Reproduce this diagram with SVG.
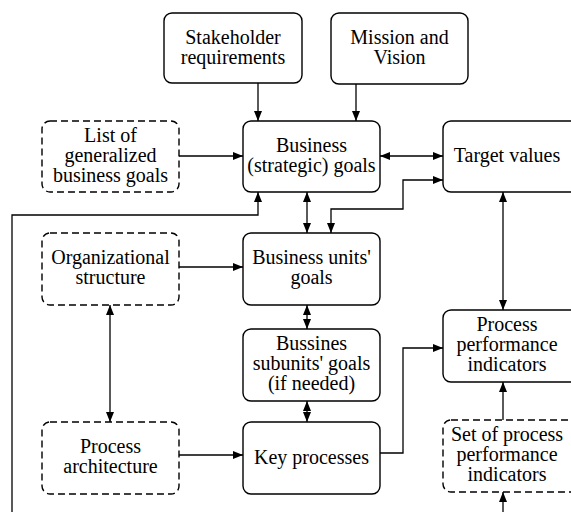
<svg xmlns="http://www.w3.org/2000/svg" width="571" height="512" viewBox="0 0 571 512">
<style>
.box{fill:#fff;stroke:#000;stroke-width:1.4}
.dash{fill:#fff;stroke:#000;stroke-width:1.4;stroke-dasharray:7,4}
.c{fill:none;stroke:#000;stroke-width:1.3}
</style>
<defs>
<marker id="ah" viewBox="0 0 10 8" refX="10" refY="4" markerWidth="10" markerHeight="8" markerUnits="userSpaceOnUse" orient="auto-start-reverse">
<path d="M0,0 L10,4 L0,8 z" fill="#000"/>
</marker>
</defs>
<rect width="571" height="512" fill="#fff"/>
<g id="connectors">
<path class="c" d="M258,83 V121" marker-end="url(#ah)"/>
<path class="c" d="M356,84 V121" marker-end="url(#ah)"/>
<path class="c" d="M179,156 H243" marker-end="url(#ah)"/>
<path class="c" d="M380,156 H443" marker-start="url(#ah)" marker-end="url(#ah)"/>
<path class="c" d="M331,233 V209 H403 V180 H443" marker-start="url(#ah)" marker-end="url(#ah)"/>
<path class="c" d="M307,192 V233" marker-start="url(#ah)" marker-end="url(#ah)"/>
<path class="c" d="M12,520 V215 H258 V192" marker-end="url(#ah)"/>
<path class="c" d="M179,267 H243" marker-end="url(#ah)"/>
<path class="c" d="M110,305 V422" marker-start="url(#ah)" marker-end="url(#ah)"/>
<path class="c" d="M179,455 H243" marker-end="url(#ah)"/>
<path class="c" d="M307,305 V329" marker-start="url(#ah)" marker-end="url(#ah)"/>
<path class="c" d="M307,401 V422" marker-start="url(#ah)" marker-end="url(#ah)"/>
<path class="c" d="M380,453 H403 V348 H443" marker-end="url(#ah)"/>
<path class="c" d="M503,192 V310" marker-start="url(#ah)" marker-end="url(#ah)"/>
<path class="c" d="M503,420 V382" marker-end="url(#ah)"/>
<path class="c" d="M503,520 V492" marker-end="url(#ah)"/>
</g>
<g font-family="Liberation Serif, Times New Roman, serif" font-size="20" text-anchor="middle" fill="#000">
<g id="stakeholder">
<rect class="box" x="164" y="13" width="138" height="70" rx="8"/>
<text x="233" y="44">Stakeholder</text>
<text x="233" y="64">requirements</text>
</g>
<g id="mission">
<rect class="box" x="331" y="13" width="137" height="71" rx="8"/>
<text x="399.5" y="44">Mission and</text>
<text x="399.5" y="64">Vision</text>
</g>
<g id="list">
<rect class="dash" x="42" y="121" width="137" height="71" rx="8"/>
<text x="110.5" y="142">List of</text>
<text x="110.5" y="162">generalized</text>
<text x="110.5" y="182">business goals</text>
</g>
<g id="business">
<rect class="box" x="243" y="121" width="137" height="71" rx="8"/>
<text x="311.5" y="152">Business</text>
<text x="311.5" y="172">(strategic) goals</text>
</g>
<g id="target">
<rect class="box" x="443" y="121" width="137" height="71" rx="8"/>
<text x="507" y="162">Target values</text>
</g>
<g id="org">
<rect class="dash" x="42" y="233" width="137" height="72" rx="8"/>
<text x="110.5" y="264">Organizational</text>
<text x="110.5" y="284">structure</text>
</g>
<g id="units">
<rect class="box" x="243" y="233" width="137" height="72" rx="8"/>
<text x="311.5" y="264">Business units'</text>
<text x="311.5" y="284">goals</text>
</g>
<g id="subunits">
<rect class="box" x="243" y="329" width="137" height="72" rx="8"/>
<text x="311.5" y="350">Bussines</text>
<text x="311.5" y="370">subunits' goals</text>
<text x="311.5" y="390">(if needed)</text>
</g>
<g id="ppi">
<rect class="box" x="443" y="310" width="137" height="72" rx="8"/>
<text x="507" y="331">Process</text>
<text x="507" y="351">performance</text>
<text x="507" y="371">indicators</text>
</g>
<g id="procarch">
<rect class="dash" x="42" y="422" width="137" height="72" rx="8"/>
<text x="110.5" y="453">Process</text>
<text x="110.5" y="473">architecture</text>
</g>
<g id="key">
<rect class="box" x="243" y="422" width="137" height="72" rx="8"/>
<text x="311.5" y="463.5">Key processes</text>
</g>
<g id="sppi">
<rect class="dash" x="443" y="420" width="137" height="72" rx="8"/>
<text x="507" y="441">Set of process</text>
<text x="507" y="461">performance</text>
<text x="507" y="481">indicators</text>
</g>
</g>
</svg>
